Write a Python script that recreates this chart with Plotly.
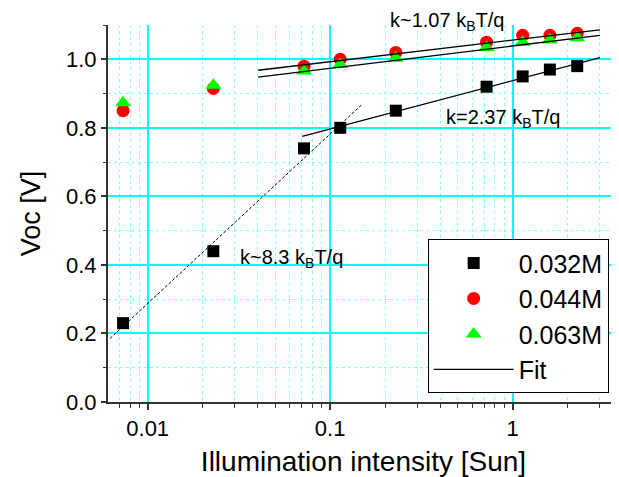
import numpy as np
import plotly.graph_objects as go

# Illumination intensity [Sun]
intensity = [0.00733, 0.0229, 0.0719, 0.1136, 0.229, 0.72, 1.135, 1.60, 2.26]
voc_032 = [0.23, 0.44, 0.74, 0.80, 0.85, 0.92, 0.95, 0.97, 0.98]
voc_044 = [0.85, 0.915, 0.98, 1.0, 1.02, 1.05, 1.07, 1.07, 1.076]
voc_063 = [0.873, 0.924, 0.966, 0.985, 1.003, 1.034, 1.05, 1.056, 1.063]

# Fit line endpoints
fit_hi_x = [0.0403, 3.01]
fit_044_y = [0.968, 1.086]
fit_063_y = [0.948, 1.070]
fit_032_x = [0.0703, 3.01]
fit_032_y = [0.7747, 1.005]
fit_low_x = [0.00622, 0.1507]
fit_low_y = [0.1855, 0.870]

FONT = "Liberation Sans, Arial, sans-serif"

fig = go.Figure()
fig.add_trace(go.Scatter(x=intensity, y=voc_032, mode="markers", name="0.032M",
                         marker=dict(symbol="square", size=12, color="black")))
fig.add_trace(go.Scatter(x=intensity, y=voc_044, mode="markers", name="0.044M",
                         marker=dict(symbol="circle", size=13, color="red")))
fig.add_trace(go.Scatter(x=intensity, y=voc_063, mode="markers", name="0.063M",
                         marker=dict(symbol="triangle-up", size=14, color="#00ff00")))
fig.add_trace(go.Scatter(x=fit_low_x, y=fit_low_y, mode="lines", showlegend=False,
                         line=dict(color="black", width=1, dash="3px,2px")))
fit_x = fit_hi_x + [None] + fit_hi_x + [None] + fit_032_x
fit_y = fit_044_y + [None] + fit_063_y + [None] + fit_032_y
fig.add_trace(go.Scatter(x=fit_x, y=fit_y, mode="lines", name="Fit",
                         line=dict(color="black", width=1.3)))

ann_font = dict(family=FONT, size=20, color="black")
fig.add_annotation(x=-0.6833, y=1.0106, xref="x", yref="paper", text="k~1.07 k<sub>B</sub>T/q",
                   showarrow=False, xanchor="left", yanchor="middle", font=ann_font)
fig.add_annotation(x=-0.3764, y=0.827, xref="x", yref="y", text="k=2.37 k<sub>B</sub>T/q",
                   showarrow=False, xanchor="left", yanchor="middle", font=ann_font)
fig.add_annotation(x=-1.5052, y=0.4176, xref="x", yref="y", text="k~8.3 k<sub>B</sub>T/q",
                   showarrow=False, xanchor="left", yanchor="middle", font=ann_font)

grid_major = "#00ffff"
grid_minor = "#80ffff"

fig.update_xaxes(type="log", range=[-2.2175, 0.583],
                 title=dict(text="Illumination intensity [Sun]", font=dict(family=FONT, size=28, color="black"), standoff=11),
                 tickvals=[0.01, 0.1, 1], ticktext=["0.01", "0.1", "1"],
                 tickfont=dict(family=FONT, size=22, color="black"),
                 showline=True, linecolor="#333333", linewidth=2,
                 ticks="outside", ticklen=6, tickwidth=1.5, tickcolor="#333333",
                 showgrid=True, gridcolor=grid_major, gridwidth=1.5,
                 minor=dict(dtick="D1", ticks="outside", ticklen=4, tickcolor="#333333", tickwidth=1,
                            showgrid=True, gridcolor=grid_minor, griddash="dot", gridwidth=1),
                 zeroline=False, mirror=False)
fig.update_yaxes(range=[0, 1.1],
                 title=dict(text="Voc [V]", font=dict(family=FONT, size=27, color="black"), standoff=18),
                 tickvals=[0, 0.2, 0.4, 0.6, 0.8, 1.0], ticktext=["0.0", "0.2", "0.4", "0.6", "0.8", "1.0"],
                 tickfont=dict(family=FONT, size=22, color="black"),
                 showline=True, linecolor="#333333", linewidth=2,
                 ticks="outside", ticklen=5, tickwidth=1.5, tickcolor="#333333",
                 showgrid=True, gridcolor=grid_major, gridwidth=1.5,
                 minor=dict(dtick=0.1, ticks="outside", ticklen=3, tickcolor="#333333", tickwidth=1,
                            showgrid=True, gridcolor=grid_minor, griddash="dot", gridwidth=1),
                 zeroline=False)

fig.update_layout(
    width=619, height=477,
    margin=dict(l=100, r=8, t=17, b=83),
    plot_bgcolor="white", paper_bgcolor="white",
    font=dict(family=FONT, color="black"),
    legend=dict(x=0.6256, y=0.432, xanchor="left", yanchor="top",
                font=dict(family=FONT, size=25, color="black"),
                bordercolor="black", borderwidth=1, bgcolor="white",
                itemwidth=80),
)

fig.write_html("out.html")
